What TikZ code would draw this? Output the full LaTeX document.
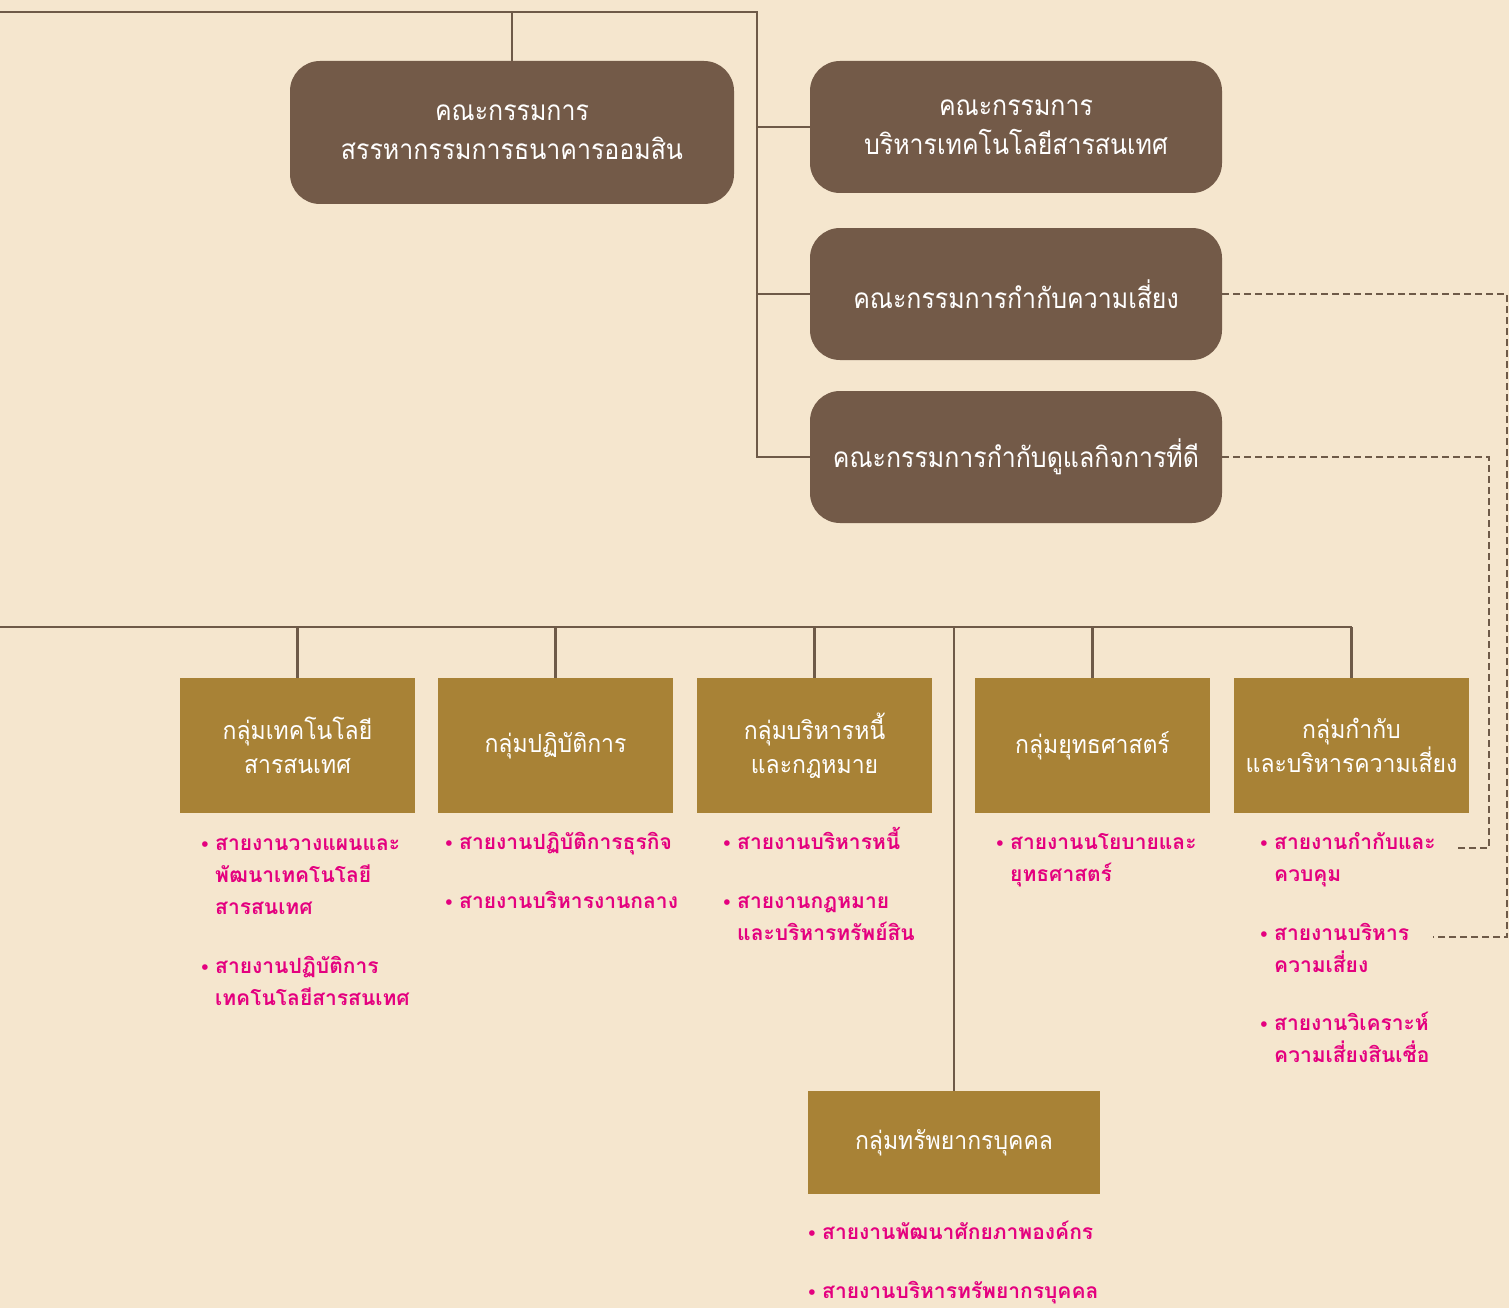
\documentclass[tikz,border=0pt]{standalone}
\usepackage{fontspec}
\newfontfamily\thaifont[Script=Thai]{Loma}
\newfontfamily\boardfont[Script=Thai, FakeStretch=0.89]{Loma}
\newfontfamily\groupfont[Script=Thai, FakeStretch=0.92]{Loma}
\newfontfamily\dotfont{DejaVu Sans}
\usetikzlibrary{positioning}
\definecolor{paper}{HTML}{F5E6CE}
\definecolor{board}{HTML}{735A48}
\definecolor{gold}{HTML}{A88236}
\definecolor{wire}{HTML}{6E5A48}
\definecolor{pink}{HTML}{E4007F}
\newcommand{\bul}{\rule{0pt}{24pt}\llap{\dotfont\fontsize{16}{16}\selectfont •\hspace{5pt}}}
\tikzset{
  wire/.style={draw=wire, line width=2.2pt},
  dashedwire/.style={draw=wire, line width=2pt, dash pattern=on 7pt off 4pt},
  boardbox/.style={fill=board, rounded corners=30pt, text=white, align=center, inner sep=0pt,
    minimum width=412pt, minimum height=132pt, font=\boardfont\fontsize{28}{39}\selectfont},
  groupbox/.style={fill=gold, text=white, align=center, inner sep=0pt,
    minimum width=235pt, minimum height=135pt, font=\groupfont\fontsize{25}{34}\selectfont},
  unit/.style={text=pink, align=left, anchor=north west, inner sep=0pt,
    font=\thaifont\bfseries\fontsize{21}{32}\selectfont}
}

\begin{document}
\begin{tikzpicture}[x=1pt, y=-1pt]
  \fill[paper] (0,0) rectangle (1509,1308);
  \useasboundingbox (0,0) rectangle (1509,1308);

  % boards
  \node[boardbox, minimum width=444pt, minimum height=143pt] (chair) at (512,132.5)
    {คณะกรรมการ\\สรรหากรรมการธนาคารออมสิน};
  \node[boardbox] (itboard) at (1016,127) {คณะกรรมการ\\บริหารเทคโนโลยีสารสนเทศ};
  \node[boardbox] (riskboard) at (1016,294) {คณะกรรมการกำกับความเสี่ยง};
  \node[boardbox] (gov) at (1016,457) {คณะกรรมการกำกับดูแลกิจการที่ดี};

  \coordinate (topleft) at (0,12);
  \coordinate (spine) at (757,12);
  \draw[wire] (topleft) -| (chair.north);
  \draw[wire] (topleft) -- (spine) |- (gov.west);
  \draw[wire] (itboard.west) -- (itboard.west -| spine);
  \draw[wire] (riskboard.west) -- (riskboard.west -| spine);

  % groups
  \node[groupbox] (itgroup) at (297.5,745.5) {กลุ่มเทคโนโลยี\\สารสนเทศ};
  \node[groupbox] (opgroup) at (555.5,745.5) {กลุ่มปฏิบัติการ};
  \node[groupbox] (debtgroup) at (814.5,745.5) {กลุ่มบริหารหนี้\\และกฎหมาย};
  \node[groupbox] (stratgroup) at (1092.5,745.5) {กลุ่มยุทธศาสตร์};
  \node[groupbox] (riskgroup) at (1351.5,745.5) {กลุ่มกำกับ\\และบริหารความเสี่ยง};
  \node[groupbox, minimum width=292pt, minimum height=103pt] (hrgroup) at (954,1142.5) {กลุ่มทรัพยากรบุคคล};

  \coordinate (busleft) at (0,627);
  \draw[wire] (busleft) -- (riskgroup.north |- busleft);
  \foreach \g in {itgroup,opgroup,debtgroup,stratgroup,riskgroup,hrgroup}
    \draw[wire] (\g.north) -- (\g.north |- busleft);

  % units
  \node[unit] (itplan) at (215,826) {\bul สายงานวางแผนและ\\พัฒนาเทคโนโลยี\\สารสนเทศ};
  \node[unit] (itop) at (215,949) {\bul สายงานปฏิบัติการ\\เทคโนโลยีสารสนเทศ};
  \node[unit] (bizop) at (459,825) {\bul สายงานปฏิบัติการธุรกิจ};
  \node[unit] (admin) at (459,884) {\bul สายงานบริหารงานกลาง};
  \node[unit] (debt) at (737,825) {\bul สายงานบริหารหนี้};
  \node[unit] (legal) at (737,884) {\bul สายงานกฎหมาย\\และบริหารทรัพย์สิน};
  \node[unit] (policy) at (1010,825) {\bul สายงานนโยบายและ\\ยุทธศาสตร์};
  \node[unit] (control) at (1274,825) {\bul สายงานกำกับและ\\ควบคุม};
  \node[unit] (riskmgmt) at (1274,916) {\bul สายงานบริหาร\\ความเสี่ยง};
  \node[unit] (credit) at (1274,1006) {\bul สายงานวิเคราะห์\\ความเสี่ยงสินเชื่อ};
  \node[unit] (talent) at (822,1215) {\bul สายงานพัฒนาศักยภาพองค์กร};
  \node[unit] (people) at (822,1274) {\bul สายงานบริหารทรัพยากรบุคคล};

  % dashed links
  \coordinate (govend) at (1455,848);
  \coordinate (riskend) at (1433,937);
  \draw[dashedwire] (gov.east) -- ++(267,0) |- (govend);
  \draw[dashedwire] (riskboard.east) -- ++(285,0) |- (riskend);
\end{tikzpicture}
\end{document}
